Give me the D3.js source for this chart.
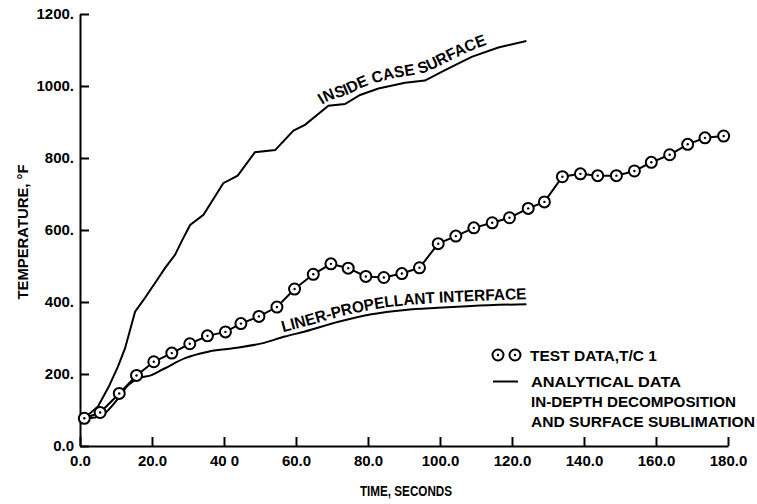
<!DOCTYPE html>
<html lang="en">
<head>
<meta charset="UTF-8">
<title>Temperature vs Time</title>
<script src="https://d3js.org/d3.v7.min.js"></script>
<style>
  body { margin: 0; background: #fff; }
  svg { display: block; font-family: "Liberation Sans", Arial, sans-serif; font-weight: bold; }
  .axis path, .axis line { stroke: #000; stroke-width: 2; }
  .axis text { font-family: "Liberation Sans", Arial, sans-serif; font-size: 15px; font-weight: bold; fill: #000; }
  .curve { fill: none; stroke: #000; stroke-width: 2; }
  .label { font-size: 15.5px; fill: #000; }
</style>
</head>
<body>
<svg id="chart" width="757" height="504"></svg>
<script>
// test data, T/C 1 (time in s, temperature in F)
const testTime = [1.2, 5.6, 10.9, 15.7, 20.5, 25.5, 30.5, 35.4, 40.4, 44.7, 49.7, 54.7, 59.6,
  64.8, 69.7, 74.5, 79.4, 84.4, 89.4, 94.3, 99.5, 104.4, 109.4, 114.5, 119.3, 124.5,
  129, 134, 139, 143.8, 149, 154, 158.7, 163.8, 168.8, 173.6, 178.8];
const testTemp = [77, 93, 146, 196, 234, 258, 284, 306, 317, 340, 360, 386, 436,
  477, 506, 494, 471, 468, 479, 495, 562, 583, 606, 620, 634, 660,
  678, 748, 756, 751, 751, 764, 788, 809, 838, 856, 861];

// analytical: inside case surface
const caseTime = [1.2, 5, 8, 10.5, 12.5, 15.3, 17.6, 20.8, 23.6, 26.4, 28.4, 30.6, 34.3, 39.8,
  43.8, 48.6, 54.2, 59.3, 62.5, 69, 73.6, 77.8, 82.9, 90.3, 95.8, 101.4, 108.8, 116.2, 124];
const caseTemp = [77, 110, 165, 220, 271, 373, 405, 452, 494, 531, 572, 614, 642, 730,
  751, 816, 822, 876, 892, 945, 950, 975, 993, 1009, 1015, 1044, 1081, 1107, 1125];

// analytical: liner-propellant interface
const linerTime = [1.2, 4.2, 6.9, 10.6, 13.4, 16.2, 19.9, 23.6, 29.2, 35.6, 42.1, 50.5, 56.9,
  62.5, 71.8, 81, 90.3, 99.5, 108.8, 124];
const linerTemp = [77, 79, 91, 132, 169, 188, 197, 216, 244, 262, 271, 285, 304,
  318, 345, 366, 378, 384, 389, 394];

const xTicks = [0, 20, 40, 60, 80, 100, 120, 140, 160, 180];
const xTickLabels = ["0.0", "20.0", "40 0", "60.0", "80.0", "100.0", "120.0", "140.0", "160.0", "180.0"];
const yTicks = [0, 200, 400, 600, 800, 1000, 1200];
const yTickLabels = ["0.0", "200.", "400.", "600.", "800.", "1000.", "1200."];

const legendLines = ["ANALYTICAL DATA", "IN-DEPTH DECOMPOSITION", "AND SURFACE SUBLIMATION"];

const svg = d3.select("#chart");

const x = d3.scaleLinear().domain([0, 180]).range([80, 728]);
const y = d3.scaleLinear().domain([0, 1200]).range([446, 14]);

// axes
svg.append("g")
  .attr("class", "axis")
  .attr("transform", "translate(0,446)")
  .call(d3.axisBottom(x).tickValues(xTicks).tickFormat((d, i) => xTickLabels[i])
    .tickSizeInner(-9).tickSizeOuter(0).tickPadding(9));

svg.append("g")
  .attr("class", "axis")
  .attr("transform", "translate(80,0)")
  .call(d3.axisLeft(y).tickValues(yTicks).tickFormat((d, i) => yTickLabels[i])
    .tickSizeInner(-9).tickSizeOuter(0).tickPadding(6));

const pairs = (ts, vs) => ts.map((t, i) => [t, vs[i]]);
const testData = pairs(testTime, testTemp);
const caseData = pairs(caseTime, caseTemp);
const linerData = pairs(linerTime, linerTemp);

const line = d3.line().x(d => x(d[0])).y(d => y(d[1]));

svg.append("path").attr("class", "curve")
  .attr("d", line.curve(d3.curveLinear)(caseData));
svg.append("path").attr("class", "curve")
  .attr("d", line.curve(d3.curveMonotoneX)(linerData));
svg.append("path").attr("class", "curve")
  .attr("d", line.curve(d3.curveLinear)(testData));

const marks = svg.append("g").selectAll("g").data(testData).join("g")
  .attr("transform", d => `translate(${x(d[0])},${y(d[1])})`);
marks.append("circle").attr("r", 5.5).attr("fill", "#fff").attr("stroke", "#000").attr("stroke-width", 2);
marks.append("circle").attr("r", 1.2).attr("fill", "#000");

// labels running along the curves
const defs = svg.append("defs");
function lengthAtX(node, px) {
  let lo = 0, hi = node.getTotalLength();
  for (let i = 0; i < 30; i++) {
    const mid = (lo + hi) / 2;
    if (node.getPointAtLength(mid).x < px) lo = mid; else hi = mid;
  }
  return lo;
}
function curveLabel(id, data, fromT, lift, x0, x1, text) {
  const p = defs.append("path").attr("id", id)
    .attr("d", d3.line().x(d => x(d[0])).y(d => y(d[1]) - lift).curve(d3.curveBasis)(data.filter(d => d[0] >= fromT)));
  const node = p.node();
  const a = lengthAtX(node, x0), b = lengthAtX(node, x1);
  svg.append("text").attr("class", "label").style("font-size", "16px")
    .append("textPath").attr("href", "#" + id)
    .attr("startOffset", a)
    .attr("textLength", b - a).attr("lengthAdjust", "spacingAndGlyphs")
    .text(text);
}
curveLabel("caseLabel", caseData, 59, 7, 322, 487, "INSIDE CASE SURFACE");
curveLabel("linerLabel", linerData, 45, 5, 283, 527, "LINER-PROPELLANT INTERFACE");

// legend
const legend = svg.append("g");
[498, 515].forEach(cx => {
  legend.append("circle").attr("cx", cx).attr("cy", 355).attr("r", 5.5)
    .attr("fill", "#fff").attr("stroke", "#000").attr("stroke-width", 2);
  legend.append("circle").attr("cx", cx).attr("cy", 355).attr("r", 1.2).attr("fill", "#000");
});
legend.append("text").attr("class", "label").attr("x", 530).attr("y", 361)
  .attr("textLength", 127).attr("lengthAdjust", "spacingAndGlyphs").text("TEST DATA,T/C 1");
legend.append("line").attr("x1", 493).attr("x2", 518).attr("y1", 381.5).attr("y2", 381.5)
  .attr("stroke", "#000").attr("stroke-width", 2);
const legendWidths = [150, 205, 224];
legendLines.forEach((t, i) => {
  legend.append("text").attr("class", "label").attr("x", 531).attr("y", 387 + i * 20)
    .attr("textLength", legendWidths[i]).attr("lengthAdjust", "spacingAndGlyphs").text(t);
});

// axis titles
svg.append("text").attr("class", "label").attr("text-anchor", "middle")
  .attr("transform", "translate(28,232) rotate(-90)")
  .attr("textLength", 135).attr("lengthAdjust", "spacingAndGlyphs")
  .style("font-size", "15.5px").text("TEMPERATURE, °F");
svg.append("text").attr("class", "label").attr("text-anchor", "middle")
  .attr("x", 406).attr("y", 496)
  .attr("textLength", 92).attr("lengthAdjust", "spacingAndGlyphs")
  .style("font-size", "14.5px").text("TIME, SECONDS");
</script>
</body>
</html>
